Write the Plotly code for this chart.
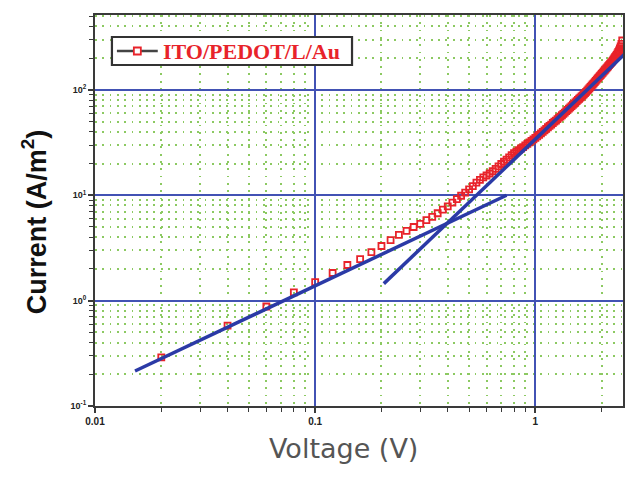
import plotly.graph_objects as go

# ---- data ----
voltage = [0.02, 0.04, 0.06, 0.08, 0.10, 0.12, 0.14, 0.16, 0.18, 0.20,
           0.22, 0.24, 0.26, 0.28, 0.30, 0.32, 0.34, 0.36, 0.38, 0.40,
           0.42, 0.44, 0.46, 0.48, 0.50, 0.52, 0.54, 0.56, 0.58, 0.60,
           0.62, 0.64, 0.66, 0.68, 0.70, 0.72, 0.74, 0.76, 0.78, 0.80,
           0.82, 0.84, 0.86, 0.88, 0.90, 0.92, 0.94, 0.96, 0.98, 1.00,
           1.02, 1.04, 1.06, 1.08, 1.10, 1.12, 1.14, 1.16, 1.18, 1.20,
           1.22, 1.24, 1.26, 1.28, 1.30, 1.32, 1.34, 1.36, 1.38, 1.40,
           1.42, 1.44, 1.46, 1.48, 1.50, 1.52, 1.54, 1.56, 1.58, 1.60,
           1.62, 1.64, 1.66, 1.68, 1.70, 1.72, 1.74, 1.76, 1.78, 1.80,
           1.82, 1.84, 1.86, 1.88, 1.90, 1.92, 1.94, 1.96, 1.98, 2.00,
           2.02, 2.04, 2.06, 2.08, 2.10, 2.12, 2.14, 2.16, 2.18, 2.20,
           2.22, 2.24, 2.26, 2.28, 2.30, 2.32, 2.34, 2.36, 2.38, 2.40,
           2.42, 2.44, 2.46, 2.48]
current = [0.29, 0.58, 0.88, 1.20, 1.50, 1.83, 2.18, 2.48, 2.89, 3.30,
           3.76, 4.20, 4.60, 5.00, 5.35, 5.80, 6.25, 6.75, 7.30, 7.85,
           8.50, 9.20, 9.90, 10.6, 11.4, 12.2, 13.2, 14.0, 14.8, 15.4,
           16.1, 16.9, 17.8, 18.8, 19.8, 20.8, 21.8, 22.9, 24.0, 25.1,
           26.0, 26.8, 27.8, 28.6, 29.7, 30.7, 31.8, 32.8, 33.9, 35.0,
           36.2, 37.5, 38.7, 40.0, 41.3, 42.6, 44.2, 45.5, 46.9, 48.5,
           49.9, 51.2, 52.9, 54.6, 55.8, 57.5, 59.3, 61.0, 62.8, 64.7,
           66.5, 68.4, 70.3, 72.3, 74.2, 76.2, 78.3, 80.3, 82.4, 84.5,
           86.6, 88.8, 91.0, 93.2, 95.8, 98.6, 100.9, 103.7, 106.7, 109.6,
           112.6, 115.6, 118.7, 121.9, 125.1, 128.4, 131.7, 135.0, 138.4, 141.9,
           145.4, 149.0, 152.6, 156.3, 160.1, 163.9, 167.7, 171.7, 175.6, 179.7,
           183.8, 188.8, 193.9, 199.0, 204.3, 209.6, 215.0, 222.4, 229.9, 237.6,
           247.4, 259.4, 273.6, 294.3]

# fitted lines (end points)
fit_ohmic_v = [0.0152, 0.74]
fit_ohmic_j = [0.215, 10.0]
fit_sclc_v = [0.205, 2.55]
fit_sclc_j = [1.45, 220.0]

series_name = "ITO/PEDOT/L/Au"
x_tickvals = [0.01, 0.1, 1]
x_ticktext = ["0.01", "0.1", "1"]
y_tickvals = [0.1, 1, 10, 100]
y_ticktext = ["10<sup>-1</sup>", "10<sup>0</sup>", "10<sup>1</sup>", "10<sup>2</sup>"]

RED = "#e8232a"
BLUE = "#2b3aa6"
GRID_BLUE = "#4252b4"
GREEN = "#8cc962"
FRAME = "#3a3a3a"

fig = go.Figure()

fig.add_trace(go.Scatter(
    x=voltage, y=current, mode="markers", showlegend=False, name=series_name,
    marker=dict(symbol="square-open", size=6, color=RED, line=dict(width=1.8, color=RED)),
))
fig.add_trace(go.Scatter(
    x=fit_ohmic_v, y=fit_ohmic_j, mode="lines", showlegend=False,
    line=dict(color=BLUE, width=3.5),
))
fig.add_trace(go.Scatter(
    x=fit_sclc_v, y=fit_sclc_j, mode="lines", showlegend=False,
    line=dict(color=BLUE, width=3.5),
))

axis_common = dict(
    type="log",
    showline=True, linecolor=FRAME, linewidth=2, mirror=True,
    ticks="outside", ticklen=5, tickwidth=1.5, tickcolor=FRAME,
    showgrid=True, gridcolor=GRID_BLUE, gridwidth=2,
    zeroline=False,
    minor=dict(dtick="D1", ticks="outside", ticklen=4, tickwidth=1.2, tickcolor=FRAME,
               showgrid=True, gridcolor=GREEN, gridwidth=1.6, griddash="1.8px,5.5px"),
)

fig.update_xaxes(
    **axis_common,
    range=[-2, 0.398],
    tickmode="array", tickvals=x_tickvals, ticktext=x_ticktext,
    tickfont=dict(family="Liberation Sans", size=10, color="#222", weight="bold"),
)
fig.update_yaxes(
    **axis_common,
    range=[-1, 2.711],
    tickmode="array", tickvals=y_tickvals, ticktext=y_ticktext,
    tickfont=dict(family="Liberation Sans", size=9, color="#222", weight="bold"),
)

# plot area in pixels: x 95..625, y 15..406
def px_x(p):
    return (p - 95) / 530.0

def px_y(p):
    return (406 - p) / 391.0

shapes = [
    # legend box
    dict(type="rect", xref="paper", yref="paper", layer="above",
         x0=px_x(112), x1=px_x(353), y0=px_y(65), y1=px_y(37),
         fillcolor="white", line=dict(color="#333333", width=2.2)),
    # legend symbol line
    dict(type="line", xref="paper", yref="paper", layer="above",
         x0=px_x(117), x1=px_x(158), y0=px_y(51), y1=px_y(51),
         line=dict(color="#444444", width=2.5)),
    # legend symbol square
    dict(type="rect", xref="paper", yref="paper", layer="above",
         x0=px_x(134), x1=px_x(141), y0=px_y(54.5), y1=px_y(47.5),
         fillcolor="white", line=dict(color=RED, width=1.8)),
]

fig.update_layout(
    width=630, height=482,
    margin=dict(l=95, r=5, t=15, b=76),
    paper_bgcolor="white", plot_bgcolor="white",
    showlegend=False,
    shapes=shapes,
    annotations=[
        dict(text=series_name, xref="paper", yref="paper",
             x=px_x(161), y=px_y(51.5), xanchor="left", yanchor="middle", showarrow=False,
             font=dict(family="Liberation Serif", size=22, color=RED, weight="bold")),
        dict(text="Voltage (V)", xref="paper", yref="paper",
             x=px_x(344), y=px_y(448), xanchor="center", yanchor="middle", showarrow=False,
             font=dict(family="DejaVu Sans", size=27, color="#555555")),
        dict(text="Current (A/m<sup>2</sup>)", xref="paper", yref="paper",
             x=px_x(34), y=px_y(222), xanchor="center", yanchor="middle", textangle=-90,
             showarrow=False,
             font=dict(family="Liberation Sans", size=27, color="#111111", weight="bold")),
    ],
)

fig.write_html("out.html", config={"displayModeBar": False},
               post_script="document.body.style.margin='0px';")
